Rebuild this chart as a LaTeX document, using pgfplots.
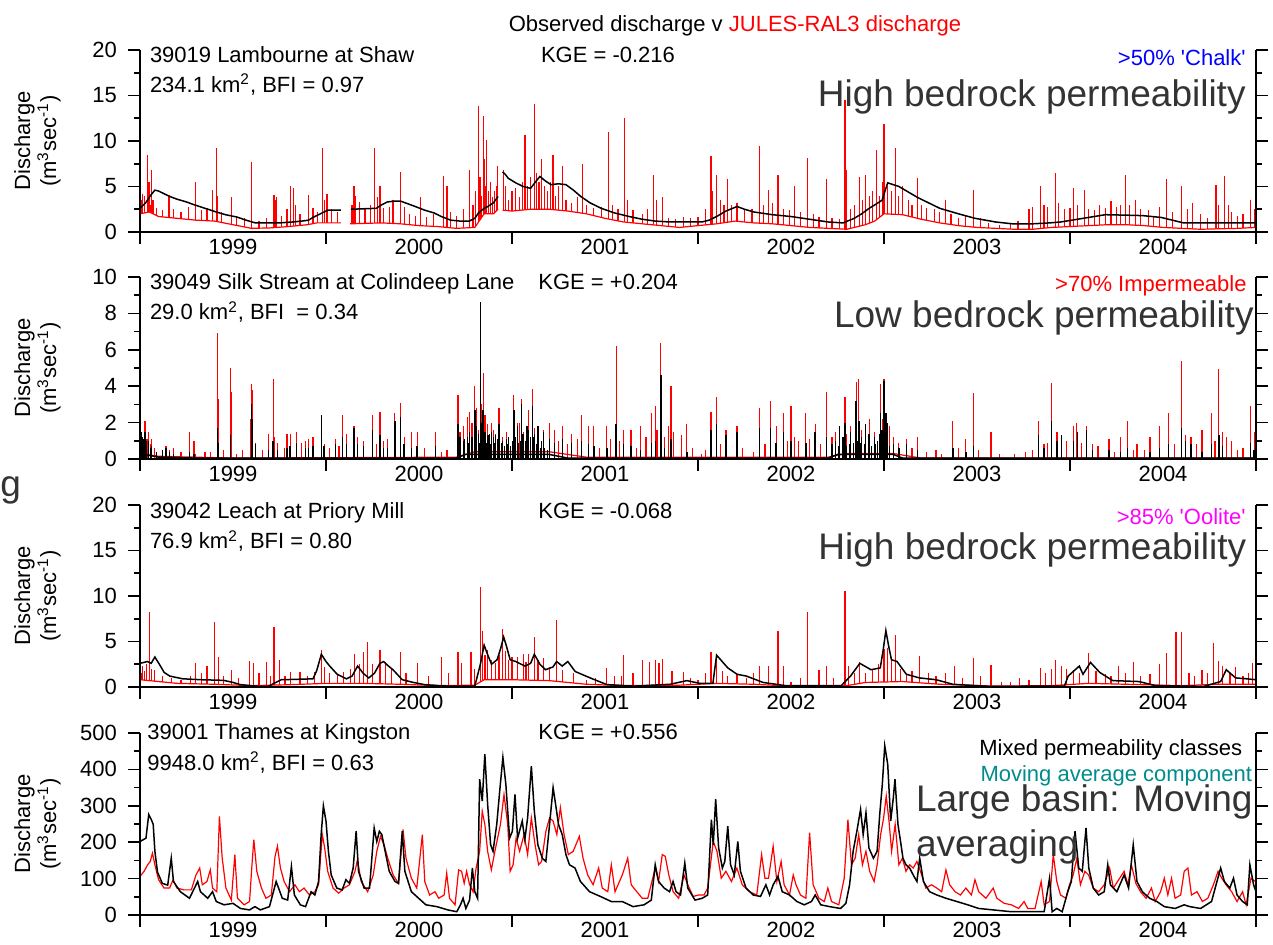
\documentclass[border=0pt]{standalone}
\usepackage{pgfplots}
\pgfplotsset{compat=1.18}
\usepackage{fontspec}
\setmainfont{Liberation Sans}
\definecolor{bigtxt}{RGB}{51,51,51}
\definecolor{tealtxt}{RGB}{0,140,140}
\definecolor{magtxt}{RGB}{255,0,255}
\newcommand{\ft}{\fontsize{11}{13}\selectfont}
\newcommand{\fb}{\fontsize{18.5}{22}\selectfont}
\pgfplotsset{
 panel/.style={
  scale only axis, width=558pt, height=91pt, anchor=south west,
  xmin=0, xmax=6, ymin=0, axis on top,
  axis x line*=bottom, axis y line*=box,
  tick align=outside,
  xtick={0,1,2,3,4,5,6}, xticklabels={},
  extra x ticks={0.5,1.5,2.5,3.5,4.5,5.5},
  extra x tick labels={1999,2000,2001,2002,2003,2004},
  extra x tick style={major tick length=0pt},
  major tick length=6pt, minor tick length=3pt,
  every tick/.style={black, line width=0.8pt},
  axis line style={line width=1pt},
  minor y tick num=1,
  /pgf/number format/assume math mode=true,
  tick label style={font=\ft},
  yticklabel style={xshift=-2pt},
  ylabel={Discharge\\(m\textsuperscript{3}sec\textsuperscript{-1})},
  ylabel style={font=\ft, align=center, at={(axis description cs:-0.092,0.5)}, anchor=center},
 },
 rl/.style={red, line width=0.6pt, unbounded coords=jump},
 rc/.style={red, line width=0.6pt, ycomb},
 wf/.style={fill=white, draw=none},
 bl/.style={black, line width=0.75pt, unbounded coords=jump},
 bc/.style={black, line width=0.7pt, ycomb},
}
\begin{document}
\begin{tikzpicture}
\useasboundingbox (0,0) rectangle (636.5pt,-472.5pt);
% ---------------- Panel 1 ----------------
\begin{axis}[panel, at={(70pt,-116pt)}, ymax=20, ytick={0,5,10,15,20}]
\addplot[rc] coordinates {(0.005,3.5)(0.012,4.2)(0.025,4.0)(0.040,8.5)(0.048,5.5)(0.055,3.0)(0.061,6.8)(0.07,3.5)(0.09,2.6)(0.12,2.4)(0.156,4.1)(0.18,2.5)(0.22,2.2)(0.26,2.8)(0.300,5.5)(0.33,2.4)(0.36,2.6)(0.390,4.6)(0.410,9.2)(0.415,4.0)(0.44,2.2)(0.490,3.9)(0.52,1.8)(0.560,1.5)(0.600,7.7)(0.64,1.2)(0.68,1.5)(0.720,4.1)(0.728,3.5)(0.735,3.9)(0.76,1.8)(0.790,2.5)(0.810,5.0)(0.825,4.8)(0.835,3.0)(0.86,2.0)(0.907,4.1)(0.93,2.6)(0.955,2.2)(0.980,9.2)(0.990,3.5)(1.005,4.2)(1.03,2.5)(1.06,2.2)(1.14,3.0)(1.150,5.0)(1.16,4.0)(1.18,3.3)(1.21,2.5)(1.24,3.0)(1.260,9.2)(1.275,3.8)(1.290,5.0)(1.31,2.6)(1.34,2.8)(1.36,3.5)(1.400,6.6)(1.42,2.8)(1.45,2.0)(1.48,1.8)(1.510,3.9)(1.54,1.6)(1.58,2.0)(1.630,6.1)(1.650,5.0)(1.67,2.2)(1.70,1.8)(1.74,2.5)(1.770,6.8)(1.79,3.0)(1.805,4.5)(1.820,13.9)(1.828,6.0)(1.835,4.0)(1.845,12.7)(1.852,8.0)(1.860,5.0)(1.865,10.1)(1.875,4.5)(1.885,5.5)(1.895,3.8)(1.905,4.5)(1.915,5.0)(1.920,7.2)(1.953,6.8)(1.965,5.0)(1.98,3.5)(2.00,4.5)(2.02,4.8)(2.04,3.8)(2.055,5.5)(2.070,10.7)(2.085,5.0)(2.10,6.0)(2.120,14.1)(2.13,6.5)(2.145,5.5)(2.160,8.0)(2.175,5.0)(2.19,4.5)(2.205,5.5)(2.220,8.5)(2.235,4.0)(2.25,5.0)(2.270,7.2)(2.29,3.5)(2.32,3.2)(2.35,3.8)(2.380,7.5)(2.40,3.0)(2.44,2.6)(2.48,2.8)(2.520,11.0)(2.54,3.0)(2.57,2.5)(2.605,12.5)(2.62,3.5)(2.65,2.4)(2.70,2.0)(2.730,2.5)(2.760,6.3)(2.775,3.5)(2.810,3.9)(2.84,1.5)(2.88,1.4)(2.92,1.6)(2.96,1.5)(3.00,1.6)(3.04,2.5)(3.070,8.3)(3.080,4.5)(3.100,6.3)(3.12,3.5)(3.14,3.0)(3.160,5.8)(3.18,3.0)(3.21,3.2)(3.25,2.5)(3.29,2.5)(3.330,9.5)(3.35,3.0)(3.380,4.6)(3.40,3.2)(3.430,6.3)(3.46,2.5)(3.49,2.4)(3.520,5.0)(3.55,2.2)(3.590,8.1)(3.62,2.0)(3.65,1.6)(3.690,5.8)(3.72,1.5)(3.76,1.4)(3.790,14.5)(3.800,6.8)(3.82,2.5)(3.84,3.0)(3.870,6.0)(3.885,3.5)(3.900,6.3)(3.92,4.0)(3.94,4.5)(3.960,9.0)(3.975,4.0)(3.99,5.5)(4.000,11.9)(4.02,5.0)(4.04,4.5)(4.060,9.2)(4.08,4.0)(4.100,5.0)(4.13,3.5)(4.15,3.0)(4.180,5.9)(4.20,3.0)(4.23,2.6)(4.27,2.5)(4.300,2.2)(4.330,3.5)(4.36,2.0)(4.40,1.5)(4.44,1.8)(4.480,4.6)(4.52,1.5)(4.56,1.0)(4.62,0.8)(4.68,1.0)(4.72,1.2)(4.78,2.5)(4.80,2.8)(4.840,5.0)(4.86,3.0)(4.88,2.8)(4.920,6.5)(4.94,3.2)(4.97,2.5)(5.00,2.6)(5.020,4.8)(5.04,3.0)(5.080,4.6)(5.10,2.5)(5.13,2.4)(5.16,3.0)(5.19,2.6)(5.22,3.4)(5.25,2.8)(5.27,3.0)(5.300,6.3)(5.32,3.0)(5.35,3.5)(5.38,2.5)(5.42,2.4)(5.45,1.8)(5.48,2.8)(5.520,5.8)(5.55,2.2)(5.600,5.0)(5.63,2.5)(5.66,3.2)(5.70,2.0)(5.74,1.5)(5.785,5.2)(5.800,3.0)(5.830,6.2)(5.85,3.0)(5.87,2.2)(5.90,1.8)(5.93,2.0)(5.970,3.5)(5.99,2.5)};
\addplot[wf] coordinates {(0,2.0)(0.05,2.2)(0.1,1.7)(0.2,1.5)(0.3,1.3)(0.4,1.2)(0.5,0.8)(0.6,0.4)(0.7,0.45)(0.8,0.6)(0.9,0.8)(0.95,1.0)(1.08,1.0)(1.13,0.9)(1.3,1.0)(1.4,0.9)(1.5,0.7)(1.6,0.6)(1.7,0.4)(1.8,0.5)(1.85,2.0)(1.9,2.0)(1.925,2.5)(1.95,2.4)(2.0,2.3)(2.1,2.5)(2.2,2.5)(2.3,2.3)(2.4,2.0)(2.5,1.5)(2.6,1.1)(2.7,0.9)(2.8,0.7)(2.9,0.5)(3.0,0.7)(3.1,0.9)(3.2,1.2)(3.3,1.0)(3.4,0.9)(3.5,0.7)(3.6,0.5)(3.7,0.4)(3.8,0.3)(3.9,0.8)(3.95,1.2)(4.0,2.0)(4.1,1.9)(4.2,1.4)(4.3,1.0)(4.4,0.7)(4.5,0.5)(4.6,0.4)(4.7,0.3)(4.8,0.3)(4.9,0.5)(5.0,0.6)(5.1,0.7)(5.2,0.8)(5.3,0.8)(5.4,0.7)(5.5,0.5)(5.6,0.4)(5.7,0.3)(5.8,0.35)(5.9,0.4)(6.0,0.5)} \closedcycle;
\addplot[rl] coordinates {(0,2.0)(0.05,2.2)(0.1,1.7)(0.2,1.5)(0.3,1.3)(0.4,1.2)(0.5,0.8)(0.6,0.4)(0.7,0.45)(0.8,0.6)(0.9,0.8)(0.95,1.0)(1.08,1.0)(1.085,nan)(1.13,0.9)(1.3,1.0)(1.4,0.9)(1.5,0.7)(1.6,0.6)(1.7,0.4)(1.8,0.5)(1.85,2.0)(1.9,2.0)(1.925,2.5)(1.93,nan)(1.95,2.4)(2.0,2.3)(2.1,2.5)(2.2,2.5)(2.3,2.3)(2.4,2.0)(2.5,1.5)(2.6,1.1)(2.7,0.9)(2.8,0.7)(2.9,0.5)(3.0,0.7)(3.1,0.9)(3.2,1.2)(3.3,1.0)(3.4,0.9)(3.5,0.7)(3.6,0.5)(3.7,0.4)(3.8,0.3)(3.9,0.8)(3.95,1.2)(4.0,2.0)(4.1,1.9)(4.2,1.4)(4.3,1.0)(4.4,0.7)(4.5,0.5)(4.6,0.4)(4.7,0.3)(4.8,0.3)(4.9,0.5)(5.0,0.6)(5.1,0.7)(5.2,0.8)(5.3,0.8)(5.4,0.7)(5.5,0.5)(5.6,0.4)(5.7,0.3)(5.8,0.35)(5.9,0.4)(6.0,0.5)};
\addplot[bl] coordinates {(0.000,2.6)(0.03,3.2)(0.06,4.1)(0.08,4.6)(0.10,4.5)(0.12,4.3)(0.16,3.9)(0.20,3.6)(0.25,3.3)(0.29,3.0)(0.35,2.6)(0.41,2.2)(0.46,1.9)(0.52,1.65)(0.57,1.3)(0.62,1.0)(0.68,1.0)(0.75,1.0)(0.82,1.1)(0.87,1.2)(0.906,1.3)(0.93,1.6)(0.96,1.9)(0.99,2.2)(1.01,2.4)(1.05,2.4)(1.08,2.4)(1.09,nan)(1.134,2.5)(1.20,2.55)(1.27,2.6)(1.30,3.0)(1.33,3.3)(1.37,3.4)(1.40,3.4)(1.44,3.1)(1.48,2.8)(1.53,2.4)(1.58,2.1)(1.62,1.7)(1.67,1.3)(1.72,1.2)(1.77,1.2)(1.80,1.5)(1.82,2.1)(1.85,2.6)(1.87,2.8)(1.90,3.2)(1.925,3.9)(1.93,nan)(1.950,6.6)(1.965,6.3)(1.98,5.9)(2.02,5.4)(2.06,5.0)(2.10,4.8)(2.13,5.6)(2.15,6.1)(2.18,5.6)(2.21,5.2)(2.25,5.3)(2.29,5.2)(2.33,4.6)(2.37,3.9)(2.42,3.2)(2.48,2.6)(2.55,2.1)(2.63,1.7)(2.70,1.4)(2.77,1.2)(2.85,1.1)(2.94,1.1)(3.02,1.1)(3.06,1.3)(3.10,1.7)(3.15,2.3)(3.21,2.8)(3.25,2.5)(3.30,2.2)(3.40,1.9)(3.50,1.7)(3.60,1.4)(3.70,1.1)(3.78,1.0)(3.84,1.5)(3.88,2.0)(3.92,2.6)(3.96,3.1)(3.99,3.5)(4.01,4.8)(4.02,5.4)(4.05,5.2)(4.08,5.0)(4.13,4.4)(4.18,3.8)(4.24,3.2)(4.30,2.6)(4.40,2.0)(4.49,1.5)(4.60,1.1)(4.69,0.9)(4.80,0.9)(4.89,1.0)(4.95,1.1)(5.01,1.3)(5.10,1.6)(5.19,1.9)(5.30,1.85)(5.39,1.8)(5.49,1.6)(5.55,1.3)(5.61,1.0)(5.70,1.0)(5.79,1.0)(5.90,1.0)(6.00,1.0)};
\end{axis}
% ---------------- Panel 2 ----------------
\begin{axis}[panel, at={(70pt,-229.5pt)}, ymax=10, ytick={0,2,4,6,8,10}]
\addplot[rl] coordinates {(0,0.3)(0.1,0.15)(0.5,0.05)(1.7,0.1)(1.8,0.4)(2.2,0.4)(2.4,0.1)(3.7,0.1)(3.8,0.3)(4.05,0.3)(4.2,0.05)(6,0.05)};
\addplot[rc] coordinates {(0.005,1.2)(0.015,0.9)(0.020,1.0)(0.027,2.1)(0.038,1.1)(0.045,1.5)(0.055,0.8)(0.063,1.1)(0.08,0.6)(0.12,0.4)(0.14,0.7)(0.16,0.5)(0.18,0.6)(0.22,0.4)(0.267,1.5)(0.29,1.0)(0.30,0.3)(0.35,0.4)(0.38,0.4)(0.416,6.9)(0.42,3.3)(0.45,0.5)(0.488,5.0)(0.494,3.7)(0.52,0.3)(0.55,0.5)(0.595,2.2)(0.600,4.1)(0.605,3.8)(0.62,0.9)(0.66,0.5)(0.69,1.4)(0.716,4.4)(0.722,1.2)(0.74,0.9)(0.775,0.6)(0.79,1.4)(0.807,1.4)(0.84,1.5)(0.87,0.9)(0.89,1.0)(0.905,1.1)(0.93,1.2)(0.975,2.4)(0.99,0.8)(1.02,0.6)(1.05,1.1)(1.07,0.7)(1.09,2.4)(1.11,1.4)(1.15,1.8)(1.17,1.2)(1.20,1.0)(1.25,2.4)(1.27,0.8)(1.29,2.6)(1.31,1.0)(1.33,1.1)(1.37,2.5)(1.40,3.05)(1.42,1.2)(1.46,1.5)(1.49,1.5)(1.53,0.6)(1.59,1.46)(1.62,0.4)(1.65,0.5)(1.71,3.5)(1.72,1.5)(1.74,1.8)(1.76,2.3)(1.77,2.6)(1.785,2.0)(1.80,4.0)(1.81,2.8)(1.82,1.6)(1.83,8.4)(1.838,3.0)(1.845,4.7)(1.855,2.4)(1.87,1.9)(1.88,1.3)(1.89,2.0)(1.90,1.6)(1.91,1.4)(1.93,2.8)(1.95,1.2)(1.97,1.5)(1.98,1.2)(2.01,3.5)(2.03,2.0)(2.04,2.0)(2.05,3.3)(2.06,1.5)(2.08,1.5)(2.09,2.7)(2.11,3.85)(2.12,1.7)(2.14,1.8)(2.16,1.0)(2.17,1.6)(2.20,2.0)(2.23,1.6)(2.25,1.0)(2.27,1.8)(2.30,0.8)(2.32,1.4)(2.35,1.1)(2.375,2.4)(2.41,1.8)(2.44,1.8)(2.47,0.6)(2.51,1.8)(2.53,1.1)(2.56,6.2)(2.58,1.0)(2.60,1.6)(2.64,1.6)(2.67,0.6)(2.69,1.8)(2.72,1.2)(2.75,2.5)(2.77,2.9)(2.78,1.6)(2.80,6.4)(2.82,1.2)(2.84,1.8)(2.855,4.0)(2.87,1.5)(2.91,1.3)(2.94,1.9)(2.97,0.6)(3.02,0.3)(3.04,0.5)(3.07,2.6)(3.10,3.4)(3.12,0.8)(3.15,1.6)(3.21,1.8)(3.24,0.6)(3.30,0.4)(3.33,2.8)(3.36,0.8)(3.39,3.2)(3.42,1.8)(3.46,2.5)(3.48,1.0)(3.50,2.9)(3.52,1.2)(3.54,1.0)(3.58,2.5)(3.60,1.1)(3.63,1.9)(3.66,0.8)(3.69,3.7)(3.72,1.2)(3.74,1.5)(3.76,1.6)(3.79,3.4)(3.80,1.4)(3.82,1.8)(3.85,4.25)(3.865,4.4)(3.88,1.6)(3.90,1.6)(3.92,2.2)(3.95,1.5)(3.98,4.1)(3.99,2.2)(4.00,4.4)(4.01,2.0)(4.03,1.8)(4.05,1.2)(4.08,0.9)(4.12,1.1)(4.15,0.6)(4.18,1.2)(4.23,0.4)(4.28,0.5)(4.31,0.3)(4.37,2.1)(4.40,0.6)(4.44,1.1)(4.48,3.6)(4.51,0.5)(4.575,1.5)(4.62,0.3)(4.70,0.3)(4.76,0.4)(4.80,0.5)(4.83,2.1)(4.86,0.8)(4.88,0.9)(4.90,4.2)(4.93,1.5)(4.955,1.3)(4.98,1.0)(5.02,1.8)(5.035,2.0)(5.06,0.9)(5.09,1.8)(5.12,0.8)(5.15,0.7)(5.21,1.1)(5.24,0.4)(5.27,1.2)(5.31,2.1)(5.34,0.5)(5.36,0.8)(5.40,0.5)(5.43,1.2)(5.48,1.8)(5.53,2.5)(5.56,0.8)(5.60,5.4)(5.62,1.3)(5.65,1.2)(5.68,0.8)(5.71,1.6)(5.76,2.5)(5.78,1.0)(5.80,4.96)(5.82,1.5)(5.84,1.2)(5.87,1.0)(5.90,0.5)(5.93,0.6)(5.97,2.9)(5.99,1.5)};
\addplot[bl] coordinates {(0,0.3)(0.1,0.1)(0.3,0.05)(1.7,0.05)(1.75,0.25)(2.2,0.25)(2.3,0.05)(3.7,0.05)(3.75,0.25)(4.05,0.25)(4.1,0.05)(6,0.05)};
\addplot[bc] coordinates {(0.005,1.5)(0.012,1.2)(0.02,1.1)(0.027,1.5)(0.035,1.0)(0.045,1.0)(0.055,0.6)(0.063,0.7)(0.09,0.4)(0.12,0.5)(0.14,0.6)(0.16,0.4)(0.18,0.3)(0.267,0.4)(0.29,0.3)(0.416,1.7)(0.42,0.9)(0.488,1.3)(0.600,3.0)(0.605,2.2)(0.62,0.8)(0.69,0.5)(0.716,1.0)(0.74,0.5)(0.79,0.6)(0.807,0.7)(0.84,0.9)(0.89,0.6)(0.905,0.6)(0.93,0.7)(0.975,2.4)(0.99,0.7)(1.05,0.8)(1.09,1.2)(1.11,0.8)(1.15,1.7)(1.17,0.8)(1.20,0.7)(1.25,1.6)(1.29,1.3)(1.31,0.6)(1.33,0.6)(1.37,2.1)(1.40,2.3)(1.42,0.8)(1.46,0.6)(1.49,0.7)(1.59,0.7)(1.71,1.9)(1.72,1.2)(1.74,1.0)(1.76,1.2)(1.77,1.5)(1.785,1.2)(1.80,2.7)(1.81,1.8)(1.82,1.4)(1.83,8.6)(1.838,2.0)(1.845,2.7)(1.855,1.5)(1.87,1.3)(1.88,1.4)(1.89,1.5)(1.90,1.2)(1.91,1.3)(1.93,1.9)(1.95,1.0)(1.97,1.1)(1.98,1.2)(2.01,2.7)(2.02,1.2)(2.03,1.8)(2.05,3.0)(2.06,1.4)(2.08,1.8)(2.09,1.6)(2.11,2.9)(2.12,1.4)(2.14,1.8)(2.16,1.0)(2.17,1.5)(2.20,1.1)(2.23,0.9)(2.27,1.1)(2.32,0.9)(2.375,1.0)(2.41,0.8)(2.44,0.7)(2.51,0.6)(2.56,1.9)(2.60,0.8)(2.64,0.7)(2.69,0.5)(2.75,0.9)(2.77,1.0)(2.80,4.6)(2.82,0.6)(2.855,1.1)(2.94,0.4)(3.07,1.6)(3.10,1.9)(3.15,1.3)(3.21,1.5)(3.33,1.7)(3.39,1.7)(3.42,0.9)(3.46,1.5)(3.50,1.0)(3.58,0.9)(3.63,1.5)(3.69,1.2)(3.72,0.8)(3.74,1.0)(3.76,1.8)(3.78,1.2)(3.79,2.0)(3.82,1.5)(3.85,3.2)(3.865,2.1)(3.88,1.2)(3.90,1.9)(3.92,1.4)(3.95,1.2)(3.98,2.5)(3.99,1.6)(4.00,4.3)(4.01,2.5)(4.02,2.0)(4.05,0.8)(4.08,0.6)(4.12,0.8)(4.18,0.5)(4.37,0.6)(4.44,0.4)(4.48,0.7)(4.83,1.3)(4.86,0.6)(4.90,2.1)(4.93,1.0)(4.955,1.3)(5.02,1.0)(5.04,1.5)(5.09,1.6)(5.12,0.5)(5.21,0.5)(5.27,0.4)(5.31,0.6)(5.43,0.4)(5.48,0.6)(5.53,0.8)(5.60,1.7)(5.62,1.0)(5.65,0.8)(5.71,0.4)(5.76,0.8)(5.80,1.3)(5.82,0.7)(5.97,0.9)(5.99,0.5)};
\addplot[black, line width=0.5pt, ycomb] coordinates {(1.725,0.8)(1.745,1.1)(1.765,0.9)(1.79,1.0)(1.805,1.3)(1.825,0.9)(1.85,1.4)(1.865,0.9)(1.885,0.8)(1.905,0.9)(1.92,1.1)(1.935,1.0)(1.945,0.9)(1.96,0.7)(1.975,0.8)(1.99,0.7)(2.0,1.0)(2.015,1.2)(2.035,0.9)(2.045,1.0)(2.055,1.3)(2.07,1.0)(2.085,1.1)(2.10,1.2)(2.115,1.2)(2.13,0.8)(2.145,0.8)(2.155,0.6)(2.175,0.6)(2.19,0.5)(3.755,0.7)(3.775,0.8)(3.80,0.7)(3.815,0.8)(3.835,0.9)(3.845,1.1)(3.86,1.0)(3.875,0.9)(3.895,0.8)(3.915,0.8)(3.935,0.7)(3.955,0.8)(3.965,1.0)(3.975,1.4)(3.995,1.6)(4.015,1.2)(4.03,0.7)};
\end{axis}
% ---------------- Panel 3 ----------------
\begin{axis}[panel, at={(70pt,-343.5pt)}, ymax=20, ytick={0,5,10,15,20}]
\addplot[rc] coordinates {(0.005,1.5)(0.015,2.3)(0.025,1.8)(0.035,2.5)(0.050,8.2)(0.06,2.0)(0.080,1.9)(0.12,1.2)(0.170,1.0)(0.22,0.8)(0.27,1.2)(0.300,2.6)(0.33,1.5)(0.360,2.3)(0.400,7.1)(0.420,3.3)(0.45,1.2)(0.490,1.9)(0.53,1.0)(0.590,2.9)(0.610,2.6)(0.640,1.5)(0.680,2.8)(0.700,1.2)(0.720,6.6)(0.750,3.0)(0.78,1.2)(0.810,1.7)(0.860,1.7)(0.900,1.2)(0.94,1.6)(0.975,4.1)(0.99,2.2)(1.020,1.5)(1.06,1.3)(1.095,1.7)(1.13,2.0)(1.155,3.6)(1.18,2.5)(1.20,3.8)(1.225,5.0)(1.25,2.5)(1.290,4.1)(1.320,2.8)(1.35,2.0)(1.400,3.8)(1.43,1.5)(1.490,2.6)(1.55,1.2)(1.620,3.3)(1.66,1.5)(1.710,3.8)(1.730,2.6)(1.780,3.8)(1.80,2.0)(1.830,11.0)(1.840,6.1)(1.855,3.5)(1.870,4.1)(1.890,3.0)(1.910,2.6)(1.930,3.5)(1.950,6.4)(1.965,4.0)(1.980,3.0)(2.000,3.3)(2.030,3.3)(2.060,3.6)(2.075,2.8)(2.090,3.6)(2.120,5.5)(2.140,3.0)(2.170,3.2)(2.20,2.2)(2.240,7.4)(2.270,1.9)(2.330,1.5)(2.40,0.8)(2.45,1.0)(2.510,2.1)(2.550,1.2)(2.590,1.2)(2.600,3.5)(2.650,1.5)(2.700,3.0)(2.740,2.8)(2.770,3.0)(2.790,2.6)(2.810,3.1)(2.860,1.8)(2.920,1.7)(2.96,1.0)(3.00,0.8)(3.04,1.5)(3.070,3.9)(3.100,3.4)(3.13,1.8)(3.16,1.2)(3.210,1.4)(3.26,1.0)(3.30,1.5)(3.330,2.3)(3.380,2.3)(3.430,6.2)(3.460,2.3)(3.50,0.6)(3.55,1.0)(3.590,8.2)(3.650,1.9)(3.690,2.3)(3.73,1.0)(3.790,10.6)(3.810,2.3)(3.84,1.5)(3.870,2.8)(3.900,1.5)(3.94,2.0)(3.97,2.5)(4.000,4.2)(4.020,4.3)(4.040,3.0)(4.060,5.7)(4.09,2.0)(4.120,1.4)(4.15,1.8)(4.190,3.4)(4.24,1.5)(4.28,1.2)(4.330,1.5)(4.380,2.3)(4.42,1.0)(4.480,3.2)(4.52,1.2)(4.575,2.4)(4.63,0.6)(4.68,0.5)(4.730,1.0)(4.78,0.8)(4.840,2.1)(4.870,1.5)(4.900,2.0)(4.920,3.0)(4.955,2.3)(4.980,2.0)(5.020,1.9)(5.05,1.5)(5.100,3.7)(5.14,1.8)(5.190,1.4)(5.22,1.2)(5.260,2.3)(5.30,1.5)(5.340,2.8)(5.38,1.2)(5.430,1.4)(5.480,2.5)(5.520,3.7)(5.570,6.0)(5.600,6.0)(5.64,1.5)(5.67,1.2)(5.710,1.9)(5.74,1.5)(5.770,4.8)(5.800,2.9)(5.820,2.3)(5.86,1.5)(5.890,2.2)(5.93,1.2)(5.960,1.5)(5.980,2.6)(6.000,1.9)};
\addplot[wf] coordinates {(0,0.8)(0.1,0.6)(0.2,0.4)(0.4,0.3)(0.6,0.15)(0.8,0.25)(1.0,0.4)(1.2,0.4)(1.4,0.3)(1.6,0.15)(1.8,0.2)(1.85,0.8)(2.0,0.8)(2.2,0.7)(2.4,0.3)(2.6,0.15)(2.9,0.2)(3.1,0.4)(3.3,0.3)(3.5,0.1)(3.8,0.15)(3.9,0.5)(4.1,0.6)(4.3,0.3)(4.6,0.1)(4.9,0.15)(5.1,0.4)(5.3,0.3)(5.6,0.15)(5.8,0.3)(6.0,0.3)} \closedcycle;
\addplot[rl] coordinates {(0,0.8)(0.1,0.6)(0.2,0.4)(0.4,0.3)(0.6,0.15)(0.8,0.25)(1.0,0.4)(1.2,0.4)(1.4,0.3)(1.6,0.15)(1.8,0.2)(1.85,0.8)(2.0,0.8)(2.2,0.7)(2.4,0.3)(2.6,0.15)(2.9,0.2)(3.1,0.4)(3.3,0.3)(3.5,0.1)(3.8,0.15)(3.9,0.5)(4.1,0.6)(4.3,0.3)(4.6,0.1)(4.9,0.15)(5.1,0.4)(5.3,0.3)(5.6,0.15)(5.8,0.3)(6.0,0.3)};
\addplot[bl] coordinates {(0,2.6)(0.04,2.8)(0.06,2.6)(0.08,3.3)(0.11,2.3)(0.13,1.6)(0.16,1.2)(0.23,0.9)(0.33,0.8)(0.45,0.73)(0.50,0.5)(0.54,0.26)(0.64,0.07)(0.69,0.07)(0.73,0.5)(0.76,0.8)(0.85,0.85)(0.93,0.9)(0.95,1.8)(0.975,3.6)(1.00,2.8)(1.02,2.3)(1.06,1.4)(1.11,0.9)(1.14,1.2)(1.17,2.3)(1.20,1.5)(1.23,1.0)(1.26,1.5)(1.29,2.6)(1.31,2.8)(1.33,2.4)(1.36,1.9)(1.41,0.8)(1.47,0.5)(1.53,0.26)(1.65,0.1)(1.80,0.1)(1.83,2.5)(1.85,4.6)(1.87,3.5)(1.89,2.5)(1.92,3.0)(1.94,4.3)(1.955,5.5)(1.97,4.5)(1.99,3.0)(2.02,2.8)(2.05,2.5)(2.07,2.3)(2.10,2.6)(2.12,3.6)(2.15,2.5)(2.18,1.9)(2.22,2.2)(2.24,2.8)(2.27,2.3)(2.30,2.8)(2.34,1.7)(2.42,1.0)(2.51,0.26)(2.66,0.1)(2.85,0.3)(2.94,0.7)(3.01,0.4)(3.08,0.4)(3.10,3.5)(3.13,2.8)(3.16,2.1)(3.21,1.4)(3.26,1.2)(3.35,0.5)(3.47,0.15)(3.77,0.15)(3.82,1.2)(3.87,2.6)(3.93,1.9)(3.98,2.1)(3.995,4.0)(4.01,6.2)(4.025,4.5)(4.04,3.0)(4.07,2.8)(4.12,1.4)(4.19,1.0)(4.28,0.8)(4.37,0.3)(4.56,0.07)(4.97,0.1)(4.99,1.2)(5.05,2.3)(5.07,1.4)(5.11,2.7)(5.16,1.6)(5.23,0.7)(5.37,0.6)(5.46,0.15)(5.72,0.07)(5.81,0.6)(5.84,1.9)(5.89,1.0)(5.95,0.9)(6.0,0.8)};
\end{axis}
% ---------------- Panel 4 ----------------
\begin{axis}[panel, at={(70pt,-457.5pt)}, ymax=500, ytick={0,100,200,300,400,500}]
\addplot[rl] coordinates {(0.0,106)(0.022,120)(0.041,138)(0.055,147)(0.067,170)(0.08,138)(0.1,97)(0.129,74)(0.159,74)(0.178,97)(0.198,74)(0.237,69)(0.276,69)(0.301,110)(0.321,129)(0.335,83)(0.36,92)(0.378,124)(0.39,74)(0.413,64)(0.427,271)(0.442,156)(0.462,74)(0.491,41)(0.51,166)(0.524,46)(0.56,28)(0.589,37)(0.602,138)(0.612,207)(0.628,120)(0.653,74)(0.677,46)(0.706,55)(0.726,161)(0.739,189)(0.755,129)(0.775,92)(0.804,64)(0.833,83)(0.857,64)(0.882,74)(0.911,55)(0.94,64)(0.96,83)(0.98,221)(0.993,184)(1.009,120)(1.038,74)(1.068,60)(1.097,74)(1.126,83)(1.156,120)(1.169,152)(1.189,92)(1.224,64)(1.254,110)(1.273,175)(1.293,216)(1.312,193)(1.332,156)(1.361,110)(1.39,87)(1.414,235)(1.43,156)(1.459,101)(1.488,74)(1.518,221)(1.531,92)(1.557,55)(1.586,64)(1.606,46)(1.635,55)(1.649,115)(1.664,46)(1.694,28)(1.713,124)(1.729,120)(1.743,87)(1.756,120)(1.772,83)(1.791,64)(1.807,129)(1.826,175)(1.84,285)(1.854,249)(1.869,175)(1.889,124)(1.908,175)(1.938,249)(1.957,331)(1.977,249)(1.99,120)(2.006,138)(2.022,211)(2.041,175)(2.065,221)(2.084,166)(2.104,267)(2.124,193)(2.143,138)(2.159,147)(2.182,230)(2.202,267)(2.221,258)(2.241,221)(2.26,295)(2.28,221)(2.303,166)(2.329,175)(2.362,216)(2.382,156)(2.407,110)(2.436,83)(2.466,129)(2.485,74)(2.515,64)(2.534,138)(2.554,64)(2.593,110)(2.622,156)(2.641,83)(2.671,64)(2.70,46)(2.73,46)(2.77,129)(2.788,92)(2.808,166)(2.824,161)(2.843,110)(2.866,64)(2.896,46)(2.925,110)(2.945,83)(2.974,51)(3.003,55)(3.033,55)(3.052,74)(3.082,202)(3.102,175)(3.125,101)(3.15,120)(3.18,92)(3.209,129)(3.238,83)(3.277,64)(3.316,55)(3.342,166)(3.36,101)(3.379,101)(3.404,189)(3.424,92)(3.447,147)(3.463,83)(3.492,55)(3.512,110)(3.527,83)(3.551,55)(3.58,46)(3.60,226)(3.619,83)(3.65,46)(3.679,37)(3.698,74)(3.718,37)(3.757,28)(3.786,101)(3.806,262)(3.825,138)(3.845,156)(3.864,221)(3.884,138)(3.903,175)(3.923,120)(3.947,92)(3.963,138)(3.982,221)(3.998,267)(4.012,327)(4.027,258)(4.041,175)(4.06,249)(4.08,138)(4.099,156)(4.118,120)(4.138,138)(4.157,129)(4.177,147)(4.196,120)(4.225,74)(4.255,83)(4.284,74)(4.31,64)(4.333,124)(4.353,83)(4.382,64)(4.411,55)(4.44,74)(4.47,55)(4.489,97)(4.509,64)(4.548,46)(4.587,74)(4.607,46)(4.646,32)(4.685,28)(4.724,18)(4.753,37)(4.773,18)(4.812,18)(4.845,92)(4.861,28)(4.89,37)(4.91,166)(4.929,92)(4.949,55)(4.978,46)(4.997,83)(5.017,110)(5.037,156)(5.056,83)(5.08,120)(5.10,110)(5.125,74)(5.154,64)(5.184,83)(5.213,129)(5.233,74)(5.262,97)(5.291,120)(5.311,83)(5.33,138)(5.354,87)(5.379,64)(5.409,46)(5.438,74)(5.458,37)(5.487,64)(5.507,101)(5.526,55)(5.546,101)(5.565,46)(5.595,55)(5.614,120)(5.634,129)(5.653,55)(5.683,64)(5.712,37)(5.741,46)(5.771,83)(5.796,120)(5.816,101)(5.839,83)(5.869,64)(5.898,37)(5.928,64)(5.947,28)(5.973,101)(5.996,92)};
\addplot[bl] coordinates {(0.0,202)(0.032,211)(0.047,276)(0.061,262)(0.071,249)(0.08,175)(0.094,118)(0.12,87)(0.149,82)(0.168,156)(0.18,92)(0.217,64)(0.266,46)(0.31,92)(0.325,64)(0.364,46)(0.39,64)(0.41,37)(0.452,28)(0.50,32)(0.54,18)(0.589,14)(0.618,23)(0.647,14)(0.696,23)(0.732,92)(0.745,74)(0.765,46)(0.794,41)(0.814,133)(0.83,55)(0.862,28)(0.89,23)(0.92,64)(0.94,55)(0.96,92)(0.974,221)(0.986,300)(1.0,258)(1.013,175)(1.028,110)(1.058,74)(1.087,69)(1.107,97)(1.126,87)(1.146,129)(1.162,230)(1.175,120)(1.205,74)(1.234,74)(1.259,239)(1.273,202)(1.287,230)(1.30,221)(1.318,175)(1.34,120)(1.371,92)(1.39,87)(1.41,230)(1.424,120)(1.459,64)(1.498,46)(1.537,28)(1.596,23)(1.655,14)(1.703,9)(1.723,28)(1.737,46)(1.752,18)(1.772,41)(1.787,129)(1.80,64)(1.815,46)(1.826,373)(1.84,313)(1.854,442)(1.869,304)(1.885,193)(1.898,175)(1.918,249)(1.934,341)(1.951,433)(1.967,359)(1.987,211)(2.002,230)(2.016,331)(2.03,211)(2.055,258)(2.069,207)(2.084,267)(2.104,409)(2.12,285)(2.139,193)(2.163,156)(2.182,147)(2.202,249)(2.221,350)(2.237,295)(2.25,249)(2.27,221)(2.29,166)(2.309,138)(2.339,129)(2.368,92)(2.417,64)(2.475,51)(2.534,37)(2.593,37)(2.651,23)(2.71,28)(2.749,41)(2.77,138)(2.788,92)(2.818,74)(2.847,64)(2.866,92)(2.882,64)(2.906,55)(2.929,143)(2.945,74)(2.984,41)(3.023,46)(3.052,55)(3.072,262)(3.082,193)(3.095,318)(3.111,184)(3.131,129)(3.144,147)(3.16,244)(3.175,138)(3.195,110)(3.214,202)(3.228,120)(3.258,74)(3.297,55)(3.336,51)(3.365,83)(3.385,55)(3.404,83)(3.43,106)(3.453,64)(3.492,55)(3.532,37)(3.571,28)(3.61,37)(3.63,55)(3.66,28)(3.708,23)(3.766,18)(3.795,32)(3.815,83)(3.834,175)(3.854,230)(3.874,290)(3.888,221)(3.903,281)(3.919,184)(3.943,156)(3.963,175)(3.977,276)(3.991,359)(4.004,465)(4.02,414)(4.036,258)(4.05,322)(4.059,373)(4.075,249)(4.089,202)(4.102,156)(4.118,138)(4.138,129)(4.157,110)(4.177,92)(4.192,156)(4.212,92)(4.245,64)(4.284,55)(4.333,46)(4.392,37)(4.45,28)(4.509,18)(4.587,14)(4.685,9)(4.802,9)(4.861,9)(4.89,101)(4.904,9)(4.929,18)(4.958,9)(4.988,64)(5.007,92)(5.027,230)(5.047,129)(5.066,120)(5.086,239)(5.101,129)(5.125,74)(5.154,55)(5.184,64)(5.203,138)(5.217,83)(5.252,64)(5.291,110)(5.315,74)(5.34,193)(5.36,92)(5.389,64)(5.428,46)(5.467,37)(5.507,23)(5.565,18)(5.614,28)(5.644,23)(5.702,18)(5.761,37)(5.79,92)(5.81,129)(5.83,92)(5.859,74)(5.879,101)(5.898,55)(5.928,37)(5.953,28)(5.967,138)(5.987,83)(6.0,64)};
\end{axis}
% ---------------- Texts ----------------
\node[anchor=base, inner sep=0, font=\ft] at (367.5pt,-15.8pt) {Observed discharge v \textcolor{red}{JULES-RAL3 discharge}};
\node[anchor=base west, inner sep=0, text=bigtxt, font=\fontsize{18.5}{22}\selectfont] at (0pt,-248.5pt) {g};
% panel 1
\node[anchor=base west, inner sep=0, font=\ft] at (74.8pt,-31.5pt) {39019 Lambourne at Shaw};
\node[anchor=base west, inner sep=0, font=\ft] at (74.8pt,-46.3pt) {234.1 km\textsuperscript{2}, BFI = 0.97};
\node[anchor=base west, inner sep=0, font=\ft] at (270.3pt,-31.5pt) {KGE = -0.216};
\node[anchor=base east, inner sep=0, font=\ft, text=blue] at (623pt,-33pt) {>50\% \textquotesingle Chalk\textquotesingle};
\node[anchor=base east, inner sep=0, font=\fb, text=bigtxt] at (623pt,-53.3pt) {High bedrock permeability};
% panel 2
\node[anchor=base west, inner sep=0, font=\ft] at (74.8pt,-145pt) {39049 Silk Stream at Colindeep Lane};
\node[anchor=base west, inner sep=0, font=\ft] at (74.8pt,-160pt) {29.0 km\textsuperscript{2}, BFI \ = 0.34};
\node[anchor=base west, inner sep=0, font=\ft] at (269pt,-145pt) {KGE = +0.204};
\node[anchor=base east, inner sep=0, font=\ft, text=red] at (623.5pt,-145.8pt) {>70\% Impermeable};
\node[anchor=base east, inner sep=0, font=\fb, text=bigtxt] at (627pt,-164pt) {Low bedrock permeability};
% panel 3
\node[anchor=base west, inner sep=0, font=\ft] at (74.8pt,-259.2pt) {39042 Leach at Priory Mill};
\node[anchor=base west, inner sep=0, font=\ft] at (74.8pt,-274.5pt) {76.9 km\textsuperscript{2}, BFI = 0.80};
\node[anchor=base west, inner sep=0, font=\ft] at (269pt,-259.2pt) {KGE = -0.068};
\node[anchor=base east, inner sep=0, font=\ft, text=magtxt] at (623pt,-262.5pt) {>85\% \textquotesingle Oolite\textquotesingle};
\node[anchor=base east, inner sep=0, font=\fb, text=bigtxt] at (623.3pt,-279.7pt) {High bedrock permeability};
% panel 4
\node[anchor=base west, inner sep=0, font=\ft] at (73.5pt,-369.5pt) {39001 Thames at Kingston};
\node[anchor=base west, inner sep=0, font=\ft] at (73.5pt,-385pt) {9948.0 km\textsuperscript{2}, BFI = 0.63};
\node[anchor=base west, inner sep=0, font=\ft] at (269pt,-369.5pt) {KGE = +0.556};
\node[anchor=base east, inner sep=0, font=\ft] at (621.3pt,-377.5pt) {Mixed permeability classes};
\node[anchor=base east, inner sep=0, font=\ft, text=tealtxt] at (626.2pt,-390.5pt) {Moving average component};
\node[anchor=base west, inner sep=0, font=\fb, text=bigtxt] at (457.8pt,-405.8pt) {Large basin: Moving};
\node[anchor=base west, inner sep=0, font=\fb, text=bigtxt] at (457.8pt,-428.3pt) {averaging};
\end{tikzpicture}
\end{document}
